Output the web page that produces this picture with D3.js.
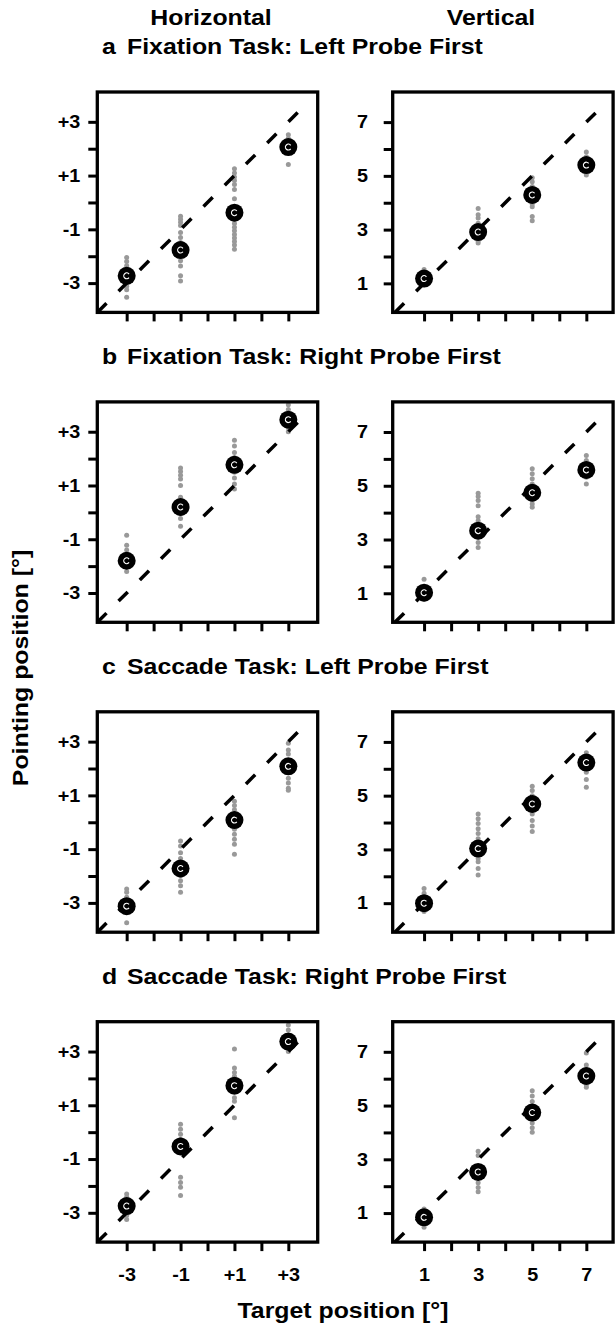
<!DOCTYPE html>
<html>
<head>
<meta charset="utf-8">
<script src="https://cdn.jsdelivr.net/npm/d3@7"></script>
<style>
body { margin: 0; background: #fff; }
svg text { font-family: "Liberation Sans", Arial, sans-serif; font-weight: bold; fill: #000; }
</style>
</head>
<body>
<svg id="chart" width="615" height="1326"></svg>
<script>
// titles
var columnTitles = ['Horizontal', 'Vertical'];
var panelLetters = ['a', 'b', 'c', 'd'];
var panelTitles = [
    'Fixation Task: Left Probe First',
    'Fixation Task: Right Probe First',
    'Saccade Task: Left Probe First',
    'Saccade Task: Right Probe First'
];
var xTitle = 'Target position [°]';
var yTitle = 'Pointing position [°]';

// target positions and ticks
var targetsH = [-3, -1, 1, 3];
var targetsV = [1, 3, 5, 7];
var ticksH = [-3, -2, -1, 0, 1, 2, 3];
var ticksV = [1, 2, 3, 4, 5, 6, 7];
var labelValuesH = [-3, -1, 1, 3];
var labelTextH = ['-3', '-1', '+1', '+3'];
var labelValuesV = [1, 3, 5, 7];
var labelTextV = ['1', '3', '5', '7'];

// unity line ends
var identityH = [-4.09, 3.55];
var identityV = [-0.08, 7.46];

// group means, one row per panel (a-d)
var meansH = [
    [-2.73, -1.77, -0.38, 2.06],
    [-1.80, 0.20, 1.77, 3.45],
    [-3.12, -1.72, 0.08, 2.08],
    [-2.75, -0.53, 1.73, 3.37]
];
var meansV = [
    [1.18, 2.91, 4.29, 5.40],
    [1.02, 3.33, 4.74, 5.59],
    [1.00, 3.03, 4.69, 6.23],
    [0.84, 2.53, 4.74, 6.10]
];

// single subjects (grey dots), panel -> target -> values
var subjectsH = [
    [
        [-2.05, -2.2, -2.35, -2.5, -2.62, -2.85, -3.0, -3.12, -3.25, -3.53],
        [-0.51, -0.62, -0.74, -0.86, -1.12, -1.3, -1.49, -1.62, -2.0, -2.17, -2.36, -2.73, -2.92],
        [1.25, 1.1, 0.95, 0.82, 0.67, 0.48, 0.14, -0.63, -0.78, -0.92, -1.05, -1.19, -1.32, -1.45, -1.58, -1.74],
        [2.52, 2.38, 2.26, 1.84, 1.41]
    ],
    [
        [-0.85, -1.22, -1.4, -1.55, -2.02, -2.2],
        [1.65, 1.52, 1.38, 1.24, 1.0, 0.56, 0.38, -0.05, -0.23, -0.52],
        [2.68, 2.47, 2.23, 2.04, 1.49, 1.28, 1.06, 0.87],
        [4.0, 3.83, 3.64, 3.15, 3.0]
    ],
    [
        [-2.48, -2.6, -2.79, -3.34, -3.74],
        [-0.7, -0.88, -1.13, -1.35, -1.99, -2.18, -2.36, -2.6],
        [0.78, 0.62, 0.47, -0.26, -0.45, -0.63, -0.82, -1.19],
        [2.94, 2.69, 2.54, 1.64, 1.46, 1.27, 1.19]
    ],
    [
        [-2.3, -2.42, -3.1, -3.25],
        [0.29, 0.11, -0.08, -0.26, -1.68, -1.87, -2.05, -2.36],
        [3.09, 2.39, 2.22, 2.08, 1.28, 1.15, 0.54],
        [3.99, 3.8, 3.0]
    ]
];
var subjectsV = [
    [
        [1.52, 1.4, 0.95],
        [3.79, 3.55, 3.43, 3.24, 3.05, 2.69, 2.58, 2.5],
        [4.93, 4.78, 4.6, 4.11, 3.95, 3.85, 3.49, 3.33],
        [5.89, 5.71, 5.15, 5.03]
    ],
    [
        [1.52, 0.78],
        [4.72, 4.6, 4.45, 4.26, 3.85, 3.7, 3.08, 2.89, 2.7],
        [5.63, 5.45, 5.26, 5.07, 4.45, 4.32, 4.2],
        [6.13, 5.94, 5.32, 5.07]
    ],
    [
        [1.55, 1.37, 0.69],
        [4.32, 4.14, 3.96, 3.77, 3.59, 3.4, 2.66, 2.54, 2.29, 2.05],
        [5.35, 5.19, 5.0, 4.32, 4.08, 3.87, 3.67],
        [6.6, 5.87, 5.6, 5.31]
    ],
    [
        [1.15, 0.47],
        [3.3, 3.14, 2.13, 1.95, 1.79],
        [5.55, 5.36, 5.15, 4.97, 4.35, 4.17, 4.01],
        [6.96, 6.51, 6.35, 5.77, 5.68]
    ]
];

// layout
var SIZE = 220.4;
var COL_X = [97.3, 392.7];
var TOP0 = 92, STEP = 309.9;
var STRETCH = 1.13, TICK_STRETCH = 1.1;

var svg = d3.select('#chart');

var scales = [
    {
        x: d3.scaleLinear().domain([-4.09, 4.09]).range([0, SIZE]),
        y: d3.scaleLinear().domain([-4.09, 4.11]).range([SIZE, 0]),
        ticks: ticksH, labelValues: labelValuesH, labelText: labelTextH,
        targets: targetsH, means: meansH, subjects: subjectsH, identity: identityH,
        pad: 6.5
    },
    {
        x: d3.scaleLinear().domain([-0.16, 7.99]).range([0, SIZE]),
        y: d3.scaleLinear().domain([-0.08, 8.12]).range([SIZE, 0]),
        ticks: ticksV, labelValues: labelValuesV, labelText: labelTextV,
        targets: targetsV, means: meansV, subjects: subjectsV, identity: identityV,
        pad: 13.5
    }
];

function label(text, x, y, size, rotate) {
    return svg.append('text')
        .attr('transform', 'translate(' + x + ',' + y + ')' + (rotate ? ' rotate(' + rotate + ')' : '') + ' scale(' + STRETCH + ',1)')
        .attr('font-size', size)
        .text(text);
}

// column headers
label(columnTitles[0], 211, 25, 22).attr('text-anchor', 'middle');
label(columnTitles[1], 491, 25, 22).attr('text-anchor', 'middle');

var arc = d3.arc()({innerRadius: 2.3, outerRadius: 3.5, startAngle: 0.7 * Math.PI, endAngle: 2.3 * Math.PI});

panelLetters.forEach(function (letter, p) {
    var top = TOP0 + p * STEP;
    var last = p === panelLetters.length - 1;

    label(letter, 102, top - 38, 22);
    label(panelTitles[p], 127, top - 38, 22);

    scales.forEach(function (s, c) {
        var g = svg.append('g').attr('transform', 'translate(' + COL_X[c] + ',' + top + ')');

        // x axis ticks
        var xAxis = d3.axisBottom(s.x).tickValues(s.ticks).tickSize(9).tickPadding(17.5)
            .tickFormat(function (d) {
                var i = s.labelValues.indexOf(d);
                return last && i >= 0 ? s.labelText[i] : '';
            });
        var gx = g.append('g').attr('transform', 'translate(0,' + SIZE + ')').call(xAxis);

        // y axis ticks
        var yAxis = d3.axisLeft(s.y).tickValues(s.ticks).tickSize(9).tickPadding(s.pad)
            .tickFormat(function (d) {
                var i = s.labelValues.indexOf(d);
                return i >= 0 ? s.labelText[i] : '';
            });
        var gy = g.append('g').call(yAxis);

        [gx, gy].forEach(function (ax) {
            ax.attr('font-size', 18);
            ax.select('.domain').remove();
            ax.selectAll('.tick line').attr('stroke', '#000').attr('stroke-width', 3);
            ax.selectAll('.tick text').attr('transform', 'scale(' + TICK_STRETCH + ',1)');
        });

        // grey subject dots
        var dots = [];
        s.targets.forEach(function (t, i) {
            s.subjects[p][i].forEach(function (v) { dots.push([t, v]); });
        });
        g.append('g').selectAll('circle')
            .data(dots)
            .enter()
            .append('circle')
            .attr('cx', function (d) { return s.x(d[0]); })
            .attr('cy', function (d) { return s.y(d[1]); })
            .attr('r', 2.5)
            .attr('fill', '#999');

        // unity line
        g.append('path')
            .attr('d', d3.line().x(function (d) { return s.x(d); }).y(function (d) { return s.y(d); })(s.identity))
            .attr('fill', 'none')
            .attr('stroke', '#000')
            .attr('stroke-width', 3.5)
            .attr('stroke-dasharray', '13,17');

        // means
        var m = g.append('g').selectAll('g')
            .data(s.targets.map(function (t, i) { return [t, s.means[p][i]]; }))
            .enter()
            .append('g')
            .attr('transform', function (d) { return 'translate(' + s.x(d[0]) + ',' + s.y(d[1]) + ')'; });
        m.append('circle').attr('r', 9).attr('fill', '#000');
        m.append('path').attr('d', arc).attr('fill', '#fff');

        // frame
        g.append('rect')
            .attr('width', SIZE)
            .attr('height', SIZE)
            .attr('fill', 'none')
            .attr('stroke', '#000')
            .attr('stroke-width', 3.3);
    });
});

// axis titles
label(yTitle, 28, 668, 22, -90).attr('text-anchor', 'middle');
label(xTitle, 343, 1318, 22).attr('text-anchor', 'middle');
</script>
</body>
</html>
